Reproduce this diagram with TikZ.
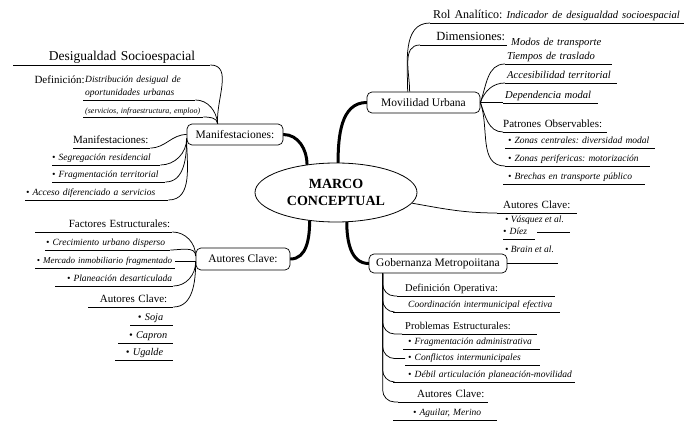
\documentclass[tikz,border=0pt]{standalone}
\usepackage{fontspec}
\setmainfont{Liberation Serif}
\usepackage{tikz}
\usetikzlibrary{shapes.geometric,backgrounds}
\frenchspacing
\newcommand{\lblsize}{\fontsize{11}{13}\selectfont}
\newcommand{\leafsize}{\fontsize{9.5}{13}\selectfont\itshape}
\newcommand{\bigleaf}{\fontsize{10.6}{14}\selectfont\itshape}
\newcommand{\tinysize}{\fontsize{8}{10}\selectfont\itshape}
\newcommand{\bul}{\textbullet\ }
\newcommand{\pad}[1]{\rule{#1}{0pt}}
\tikzset{
  hub/.style={ellipse, draw, line width=0.8pt, fill=white, minimum width=162pt, minimum height=59pt, inner sep=0pt, align=center, font=\fontsize{14}{17}\selectfont\bfseries},
  topic/.style={draw, rounded corners=5pt, fill=white, line width=0.7pt, inner sep=2pt, minimum height=21pt, font=\fontsize{11.5}{13}\selectfont},
  trunk/.style={line width=3pt, line cap=round},
  twig/.style={line width=0.75pt},
  ul/.style={append after command={(\tikzlastnode.south west) edge[twig] (\tikzlastnode.south east)}},
  leaf/.style={anchor=south west, inner xsep=0pt, inner ysep=1.5pt, text height=7pt, text depth=2.5pt, font=\leafsize, ul},
  leafl/.style={leaf, text width=#1, align=left},
  leafr/.style={leaf, text width=#1, align=right},
  lbl/.style={font=\lblsize, text height=8pt},
}
\begin{document}
\begin{tikzpicture}[x=1pt, y=1pt]
  \useasboundingbox (0,0) rectangle (697,421);

  % centre and main topics
  \node[hub] (marco) at (336,228.5) {MARCO\\CONCEPTUAL};
  \node[topic, minimum width=96pt] (mani) at (235,286.5) {Manifestaciones:};
  \node[topic, minimum width=94pt, minimum height=22pt] (autL) at (243,162) {Autores Clave:};
  \node[topic, minimum width=113pt] (mov) at (423.5,318.5) {Movilidad Urbana};
  \node[topic, minimum width=138pt, minimum height=19pt] (gob) at (438,157.5) {Gobernanza Metropoiitana};

  % desigualdad socioespacial
  \node[leafr=197pt, font=\fontsize{13.5}{15}\selectfont, text height=10pt, text depth=3pt] (tDes) at (13,356) {Desigualdad Socioespacial\pad{15pt}};
  \node[lbl, anchor=base west] (dLab) at (31,337) {Definición:};
  \node[leafl=112pt, text depth=15.5pt] (dTxt) at (83,321) {\hspace*{2pt}Distribución desigual de\\\hspace*{2pt}oportunidades urbanas};
  \node[leafl=120pt, font=\tinysize, text height=6pt, text depth=2pt] (dSub) at (83,304) {\hspace*{2pt}(servicios, infraestructura, emploo)};
  \node[leafr=77pt, lbl] (mLab) at (73,273) {Manifestaciones:\pad{2pt}};
  \node[leafl=108pt] (m1) at (52,256) {\bul Segregación residencial};
  \node[leafl=113pt] (m2) at (52,239) {\bul Fragmentación territorial};
  \node[leafl=143pt] (m3) at (25,221) {\hspace*{1pt}\bul Acceso diferenciado a servicios};

  % factores y autores
  \node[leafr=137pt, lbl] (fLab) at (35,189) {Factores Estructurales:\pad{2pt}};
  \node[leafr=125pt] (f1) at (45,171) {\bul Crecimiento urbano disperso\pad{5pt}};
  \node[leafr=140pt, font=\fontsize{9}{13}\selectfont\itshape] (f2) at (35,153) {\bul Mercado inmobiliario fragmentado\pad{3pt}};
  \node[leafr=118pt] (f3) at (55,135) {\bul Planeación desarticulada\pad{1pt}};
  \node[leafr=85pt, lbl] (aLab) at (88,114) {Autores Clave:\pad{6pt}};
  \node[leafr=43pt, font=\fontsize{10.3}{13}\selectfont\itshape] (a1) at (130,96) {\bul Soja\pad{10pt}};
  \node[leafr=55pt, font=\fontsize{10.3}{13}\selectfont\itshape] (a2) at (118,78) {\bul Capron\pad{6pt}};
  \node[leafr=58pt, font=\fontsize{10.3}{13}\selectfont\itshape] (a3) at (115,61) {\bul Ugalde\pad{10pt}};

  % movilidad urbana
  \node[leafl=254pt, lbl, font=\fontsize{12}{14}\selectfont] (rol) at (430,398) {\hspace*{3pt}Rol Analítico:\ {\bigleaf Indicador de desigualdad socioespacial}};
  \node[leafr=87pt, lbl, font=\fontsize{12.5}{14}\selectfont] (dim) at (420,376) {Dimensiones:\pad{2pt}};
  \node[leafl=107pt, font=\bigleaf, text depth=16.5pt] (dimTxt) at (505,357) {\hspace*{6pt}Modos de transporte\\\hspace*{2pt}Tiempos de traslado};
  \node[leafl=112pt, font=\bigleaf] (acc) at (505,338) {\hspace*{2pt}Accesibilidad territorial};
  \node[leafl=95pt, font=\bigleaf] (dep) at (503,318) {\hspace*{2pt}Dependencia modal};
  \node[leafl=104pt, lbl] (pat) at (503,289) {Patrones Observables:};
  \node[leafl=150pt] (z1) at (505,273) {\hspace*{3pt}\bul Zonas centrales: diversidad modal};
  \node[leafl=145pt] (z2) at (505,255) {\hspace*{3pt}\bul Zonas perifericas: motorización};
  \node[leafl=142pt] (z3) at (503,237) {\hspace*{5pt}\bul Brechas en transporte público};

  % autores (derecha)
  \node[leafl=80pt, lbl] (autR) at (497,208) {\hspace*{6pt}Autores Clave:};
  \node[font=\leafsize, anchor=base west, inner sep=0pt] (v1) at (505,198) {\bul Vásquez et al.};
  \node[leafl=32pt] (v2) at (503,182) {\bul Díez};
  \node[font=\leafsize, anchor=base west, inner sep=0pt] (v3) at (505,168) {\bul Brain et al.};
  \coordinate (vEndL) at (537,189);
  \coordinate (vEndR) at (570,189);
  \coordinate (gobEnd) at (558,157.5);

  % gobernanza
  \node[leafl=158pt, lbl, font=\fontsize{10.5}{13}\selectfont] (g1) at (397,125) {\hspace*{8pt}Definición Operativa:};
  \node[leafl=167pt] (g2) at (393,109) {\hspace*{15pt}Coordinación intermunicipal efectiva};
  \node[leafl=135pt, lbl, font=\fontsize{10.5}{13}\selectfont] (g3) at (402,87) {\hspace*{3pt}Problemas Estructurales:};
  \node[leafl=137pt] (g4) at (403,72) {\hspace*{5pt}\bul Fragmentación administrativa};
  \node[leafl=135pt] (g5) at (405,56) {\hspace*{3pt}\bul Conflictos intermunicipales};
  \node[leafl=182pt] (g6) at (393,39) {\hspace*{15pt}\bul Débil articulación planeación-movilidad};
  \node[leafl=90pt, lbl] (g7) at (398,19) {\hspace*{19pt}Autores Clave:};
  \node[leafl=104pt] (g8) at (393,1) {\hspace*{20pt}\bul Aguilar, Merino};

  % thick branches
  \begin{scope}[on background layer]
    \draw[trunk] (marco.136) to[out=90,in=0] (mani.east);
    \draw[trunk] (marco.86) to[out=90,in=180] (mov.west);
    \draw[trunk] (marco.227) to[out=-90,in=0] (autL.east);
    \draw[trunk] (marco.-70) to[out=-90,in=180] (gob.west);
  \end{scope}

  % thin branches
  \draw[twig] (tDes.south east) to[out=0,in=95] ([xshift=31pt]mani.north west);
  \draw[twig] (dTxt.south east) to[out=0,in=95] ([xshift=31pt]mani.north west);
  \draw[twig] (dSub.south east) to[out=0,in=95] ([xshift=31pt]mani.north west);
  \draw[twig] (mLab.south east) to[out=0,in=180] (mani.west);
  \foreach \n in {m1,m2,m3}
    \draw[twig] (\n.south east) to[out=0,in=-90] ([yshift=-4pt]mani.west);

  \draw[twig] (fLab.south east) to[out=0,in=90] ([yshift=3pt]autL.west);
  \draw[twig] (f1.south east) to[out=0,in=90] ([yshift=3pt]autL.west);
  \draw[twig] (f2.east) -- (f2.east -| autL.west);
  \draw[twig] (f3.south east) to[out=0,in=-90] ([yshift=-3pt]autL.west);
  \draw[twig] (aLab.south east) to[out=0,in=-90] ([yshift=-3pt]autL.west);

  \draw[twig] (rol.south west) to[out=180,in=90] ([xshift=41pt]mov.north west);
  \draw[twig] (dim.south west) to[out=180,in=90] ([xshift=43pt]mov.north west);
  \foreach \n in {dimTxt,acc}
    \draw[twig] (\n.south west) to[out=180,in=70] (mov.east);
  \draw[twig] (mov.east) -- (mov.east -| dep.south west);
  \foreach \n in {pat,z2}
    \draw[twig] (\n.south west) to[out=180,in=-70] (mov.east);

  \draw[twig] (marco.-8) to[out=-10,in=180] (autR.south west);
  \draw[twig] (vEndL) -- (vEndR);
  \draw[twig] (gob.east) -- (gobEnd);

  \coordinate (gobFoot) at ([xshift=14pt]gob.south west);
  \foreach \n in {g1,g2,g3,g6,g7}
    \draw[twig, rounded corners=12pt] (gobFoot) |- (\n.south west);
  \draw[twig, rounded corners=12pt] (gobFoot) |- (g5.west);
\end{tikzpicture}
\end{document}
